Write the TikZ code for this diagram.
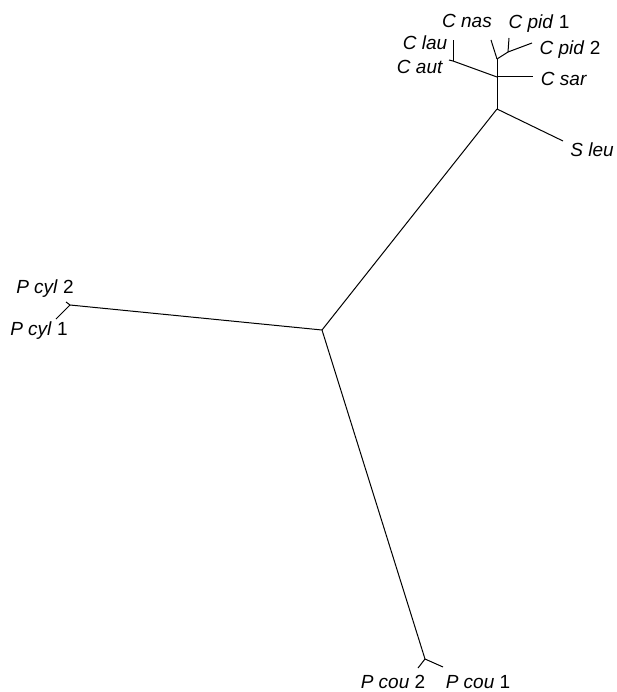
\documentclass[tikz,border=0pt]{standalone}
\usepackage{fontspec}
\setmainfont{Liberation Sans}
\begin{document}
\begin{tikzpicture}[x=1pt,y=-1pt,
  br/.style={line width=1pt,black},
  lab/.style={inner sep=0pt,font=\fontsize{19}{22}\selectfont}]
\useasboundingbox (0,0) rectangle (616,692);
% internal nodes
\coordinate (c) at (322,330);
\coordinate (s) at (497,109);
\coordinate (a) at (497,77);
\coordinate (b) at (497,59);
\coordinate (l) at (453,61);
\coordinate (p) at (508,52);
\coordinate (y) at (70,305);
\coordinate (o) at (425,659);
% leaves
\coordinate (Sleu) at (563,141);
\coordinate (Csar) at (533,77);
\coordinate (Claut) at (453,40);
\coordinate (Caut) at (449,60);
\coordinate (Cnas) at (491,40);
\coordinate (Cpid1) at (509,38);
\coordinate (Cpid2) at (532,43);
\coordinate (Pcyl2) at (66,302);
\coordinate (Pcyl1) at (56,319);
\coordinate (Pcou2) at (418,668);
\coordinate (Pcou1) at (443,667);
% branches
\draw[br] (c) -- (s);
\draw[br] (s) -- (Sleu);
\draw[br] (s) -- (a);
\draw[br] (a) -- (Csar);
\draw[br] (a) -- (l);
\draw[br] (l) -- (Claut);
\draw[br] (l) -- (Caut);
\draw[br] (a) -- (b);
\draw[br] (b) -- (Cnas);
\draw[br] (b) -- (p);
\draw[br] (p) -- (Cpid1);
\draw[br] (p) -- (Cpid2);
\draw[br] (c) -- (y);
\draw[br] (y) -- (Pcyl2);
\draw[br] (y) -- (Pcyl1);
\draw[br] (c) -- (o);
\draw[br] (o) -- (Pcou2);
\draw[br] (o) -- (Pcou1);
% labels
\node[lab] (tCnas) at (467,21) {\textit{C nas}};
\node[lab] (tCpid1) at (539,24) {\textit{C pid} 1};
\node[lab] (tCpid2) at (570,50) {\textit{C pid} 2};
\node[lab] (tClau) at (425,43) {\textit{C lau}};
\node[lab] (tCaut) at (420,67) {\textit{C aut}};
\node[lab] (tCsar) at (564,79) {\textit{C sar}};
\node[lab] (tSleu) at (592,150) {\textit{S leu}};
\node[lab] (tPcyl2) at (45,289) {\textit{P cyl} 2};
\node[lab] (tPcyl1) at (39,331) {\textit{P cyl} 1};
\node[lab] (tPcou2) at (393,682) {\textit{P cou} 2};
\node[lab] (tPcou1) at (478,682) {\textit{P cou} 1};
\end{tikzpicture}
\end{document}
